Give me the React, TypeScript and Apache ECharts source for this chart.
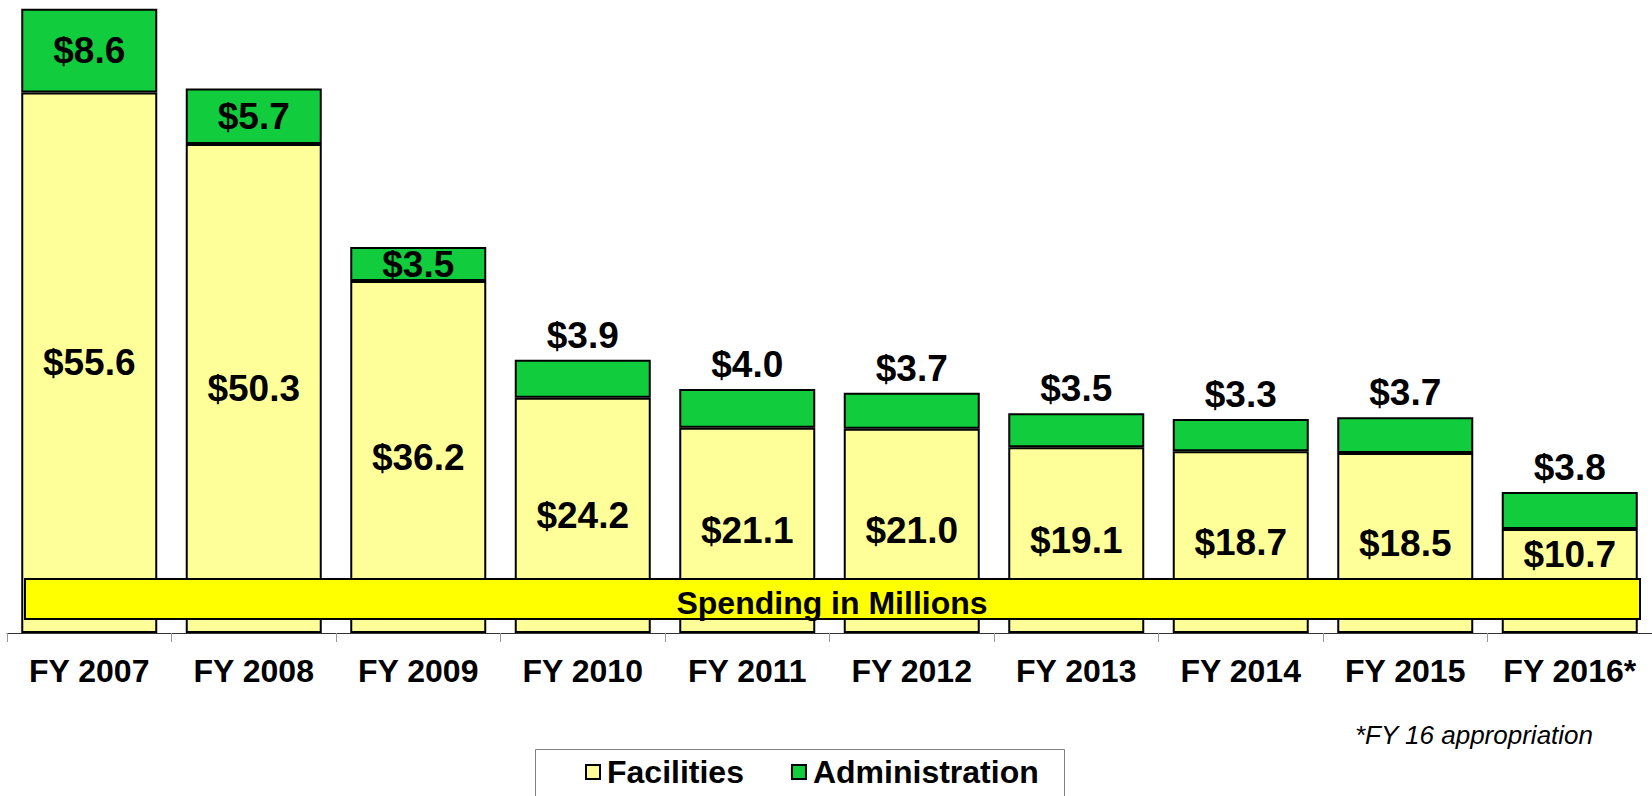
import React, { useEffect, useRef } from "react";
import * as echarts from "echarts";

const categories = ["FY 2007", "FY 2008", "FY 2009", "FY 2010", "FY 2011", "FY 2012", "FY 2013", "FY 2014", "FY 2015", "FY 2016*"];
const facilities = [55.6, 50.3, 36.2, 24.2, 21.1, 21.0, 19.1, 18.7, 18.5, 10.7];
const administration = [8.6, 5.7, 3.5, 3.9, 4.0, 3.7, 3.5, 3.3, 3.7, 3.8];
const seriesNames = ["Facilities", "Administration"];
const bannerText = "Spending in Millions";
const footnote = "*FY 16 appropriation";

const FONT = '"Liberation Sans", Arial, Helvetica, sans-serif';

export default function App() {
  const ref = useRef<HTMLDivElement>(null);
  useEffect(() => {
    if (!ref.current) return;
    const chart = echarts.init(ref.current, null, { renderer: "svg" });
    const fmt = (p: any) => "$" + Number(p.value).toFixed(1);
    const labelBase = {
      show: true,
      color: "#000",
      fontFamily: FONT,
      fontWeight: "bold" as const,
      fontSize: 37,
      lineHeight: 37,
      formatter: fmt,
    };
    const last = facilities.length - 1;
    const option: any = {
      animation: false,
      grid: { left: 7, right: -5, top: 1, bottom: 163, containLabel: false },
      xAxis: {
        type: "category",
        data: categories,
        axisLine: { show: true, lineStyle: { color: "#333", width: 1 } },
        axisTick: { show: true, alignWithLabel: false, length: 9, lineStyle: { color: "#999", width: 1 } },
        axisLabel: {
          color: "#000",
          fontFamily: FONT,
          fontWeight: "bold",
          fontSize: 32,
          margin: 22,
          interval: 0,
        },
      },
      yAxis: {
        type: "value",
        min: 0,
        max: 65,
        show: false,
        splitLine: { show: false },
      },
      legend: {
        data: seriesNames,
        left: 585,
        top: 756,
        icon: "rect",
        itemWidth: 14,
        itemHeight: 14,
        itemGap: 47,
        padding: 0,
        textStyle: { color: "#000", fontFamily: FONT, fontWeight: "bold", fontSize: 32, padding: [0, 0, 0, 2] },
      },
      series: [
        {
          name: seriesNames[0],
          type: "bar",
          stack: "total",
          barWidth: 136,
          itemStyle: { color: "#FFFF99", borderColor: "#000", borderWidth: 2 },
          data: facilities.map((v, i) => ({
            value: v,
            label: {
              ...labelBase,
              position: i === last ? "insideTop" : "inside",
              distance: 7,
            },
          })),
        },
        {
          name: seriesNames[1],
          type: "bar",
          stack: "total",
          barWidth: 136,
          itemStyle: { color: "#11CC3C", borderColor: "#000", borderWidth: 2 },
          data: administration.map((v, i) => ({
            value: v,
            label: {
              ...labelBase,
              position: i < 3 ? "inside" : "top",
              distance: 6,
            },
          })),
        },
      ],
      graphic: [
        {
          type: "rect",
          z: 100,
          shape: { x: 25, y: 579, width: 1615, height: 40 },
          style: { fill: "#FFFF00", stroke: "#000", lineWidth: 2 },
        },
        {
          type: "text",
          z: 101,
          x: 832,
          y: 603,
          style: {
            text: bannerText,
            fill: "#000",
            font: `bold 32px ${FONT}`,
            textAlign: "center",
            textVerticalAlign: "middle",
          },
        },
        {
          type: "rect",
          z: 0,
          shape: { x: 535.5, y: 749.5, width: 529, height: 60 },
          style: { fill: "#fff", stroke: "#808080", lineWidth: 1 },
        },
        {
          type: "text",
          z: 10,
          x: 1355,
          y: 735,
          style: {
            text: footnote,
            fill: "#000",
            font: `italic 26px ${FONT}`,
            textAlign: "left",
            textVerticalAlign: "middle",
          },
        },
      ],
    };
    chart.setOption(option);
    return () => chart.dispose();
  }, []);
  return (
    <div
      ref={ref}
      style={{ position: "fixed", left: 0, top: 0, width: "1652px", height: "796px", background: "#fff" }}
    />
  );
}
